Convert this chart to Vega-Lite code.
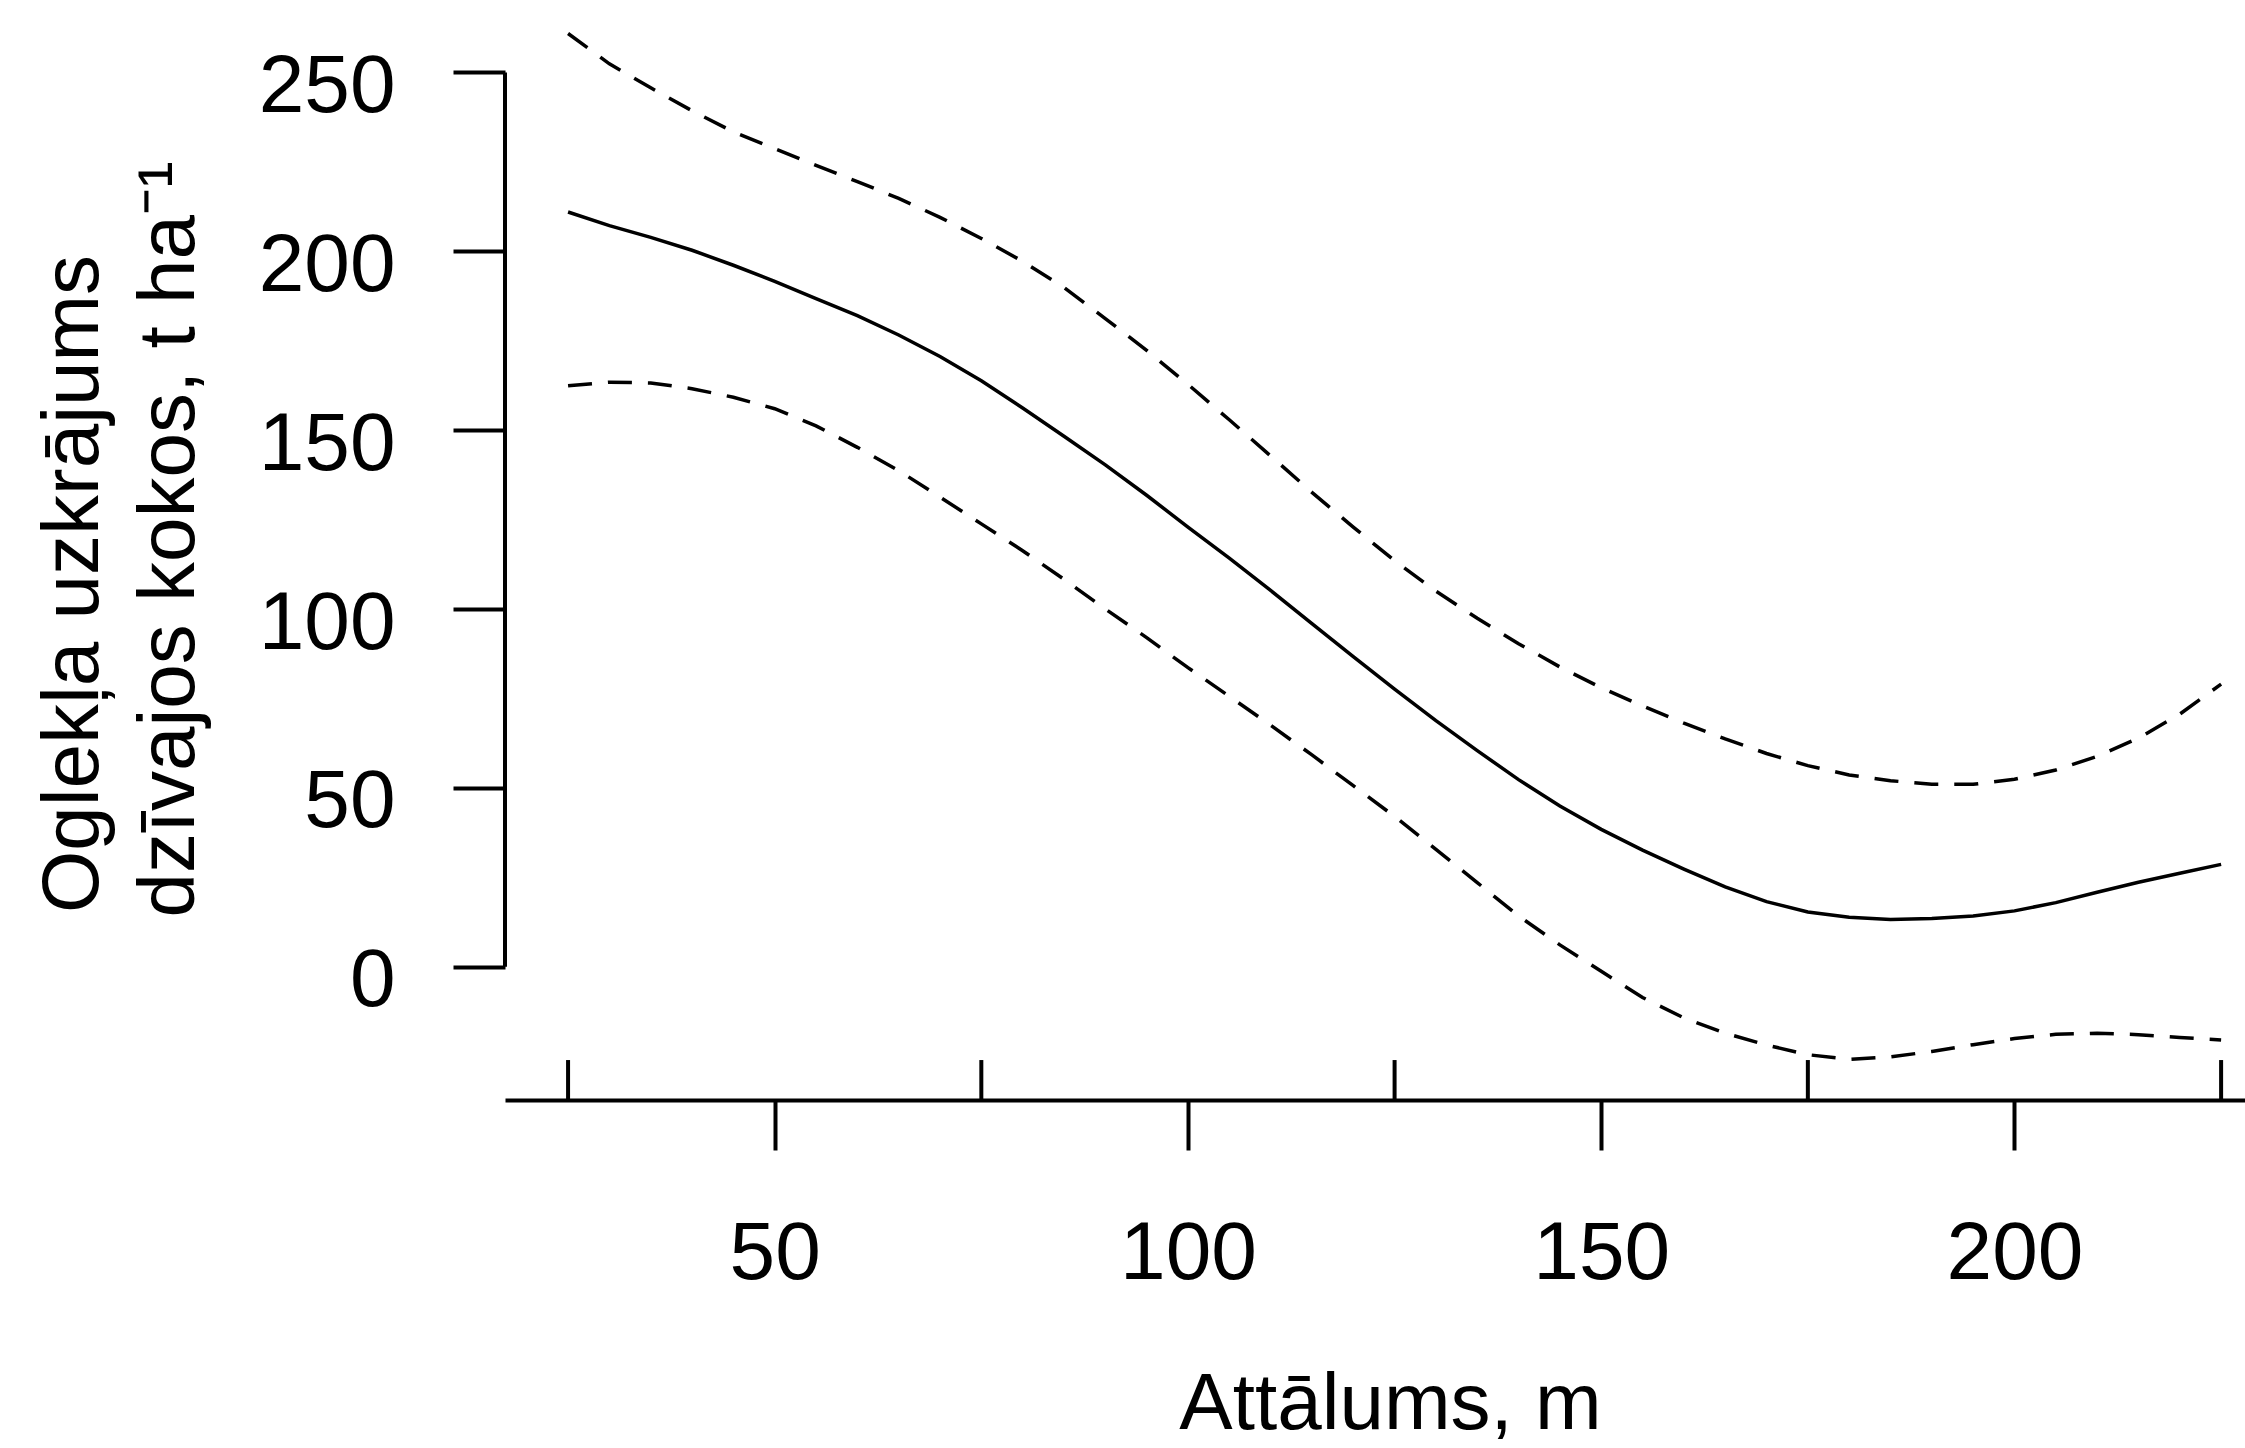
{
  "$schema": "https://vega.github.io/schema/vega-lite/v6.json",
  "width": 1740,
  "height": 1100,
  "autosize": {"type": "none"},
  "padding": {"left": 505, "top": 0, "right": 0, "bottom": 348},
  "background": "white",
  "config": {
    "view": {"stroke": null},
    "font": "Liberation Sans"
  },
  "datasets": {
    "fit": [
      {"x": 25, "y": 211.0}, {"x": 30, "y": 207.2}, {"x": 35, "y": 203.9}, {"x": 40, "y": 200.3},
      {"x": 45, "y": 196.1}, {"x": 50, "y": 191.6}, {"x": 55, "y": 186.8}, {"x": 60, "y": 182.0},
      {"x": 65, "y": 176.6}, {"x": 70, "y": 170.6}, {"x": 75, "y": 163.8}, {"x": 80, "y": 156.2},
      {"x": 85, "y": 148.3}, {"x": 90, "y": 140.3}, {"x": 95, "y": 131.8}, {"x": 100, "y": 122.9},
      {"x": 105, "y": 114.2}, {"x": 110, "y": 105.2}, {"x": 115, "y": 95.9}, {"x": 120, "y": 86.7},
      {"x": 125, "y": 77.6}, {"x": 130, "y": 68.8}, {"x": 135, "y": 60.4}, {"x": 140, "y": 52.3},
      {"x": 145, "y": 44.9}, {"x": 150, "y": 38.4}, {"x": 155, "y": 32.6}, {"x": 160, "y": 27.3},
      {"x": 165, "y": 22.3}, {"x": 170, "y": 18.2}, {"x": 175, "y": 15.3}, {"x": 180, "y": 13.8},
      {"x": 185, "y": 13.2}, {"x": 190, "y": 13.5}, {"x": 195, "y": 14.2}, {"x": 200, "y": 15.6},
      {"x": 205, "y": 17.9}, {"x": 210, "y": 20.8}, {"x": 215, "y": 23.6}, {"x": 220, "y": 26.1},
      {"x": 225, "y": 28.6}
    ],
    "upper": [
      {"x": 25, "y": 260.9}, {"x": 30, "y": 252.4}, {"x": 35, "y": 245.7}, {"x": 40, "y": 239.3},
      {"x": 45, "y": 233.4}, {"x": 50, "y": 228.7}, {"x": 55, "y": 224.0}, {"x": 60, "y": 219.5},
      {"x": 65, "y": 214.8}, {"x": 70, "y": 209.5}, {"x": 75, "y": 203.6}, {"x": 80, "y": 197.2},
      {"x": 85, "y": 189.9}, {"x": 90, "y": 181.2}, {"x": 95, "y": 172.3}, {"x": 100, "y": 162.8},
      {"x": 105, "y": 152.9}, {"x": 110, "y": 142.8}, {"x": 115, "y": 132.6}, {"x": 120, "y": 122.9},
      {"x": 125, "y": 113.5}, {"x": 130, "y": 105.0}, {"x": 135, "y": 97.4}, {"x": 140, "y": 90.3},
      {"x": 145, "y": 83.8}, {"x": 150, "y": 78.0}, {"x": 155, "y": 72.9}, {"x": 160, "y": 68.1},
      {"x": 165, "y": 63.7}, {"x": 170, "y": 59.6}, {"x": 175, "y": 56.2}, {"x": 180, "y": 53.6},
      {"x": 185, "y": 52.0}, {"x": 190, "y": 51.0}, {"x": 195, "y": 51.0}, {"x": 200, "y": 52.4},
      {"x": 205, "y": 55.0}, {"x": 210, "y": 58.8}, {"x": 215, "y": 63.9}, {"x": 220, "y": 70.6},
      {"x": 225, "y": 79.0}
    ],
    "lower": [
      {"x": 25, "y": 162.4}, {"x": 30, "y": 163.4}, {"x": 35, "y": 163.2}, {"x": 40, "y": 161.6},
      {"x": 45, "y": 159.2}, {"x": 50, "y": 156.0}, {"x": 55, "y": 151.2}, {"x": 60, "y": 145.2},
      {"x": 65, "y": 138.7}, {"x": 70, "y": 131.3}, {"x": 75, "y": 123.8}, {"x": 80, "y": 116.3},
      {"x": 85, "y": 108.3}, {"x": 90, "y": 100.0}, {"x": 95, "y": 92.0}, {"x": 100, "y": 83.6},
      {"x": 105, "y": 75.6}, {"x": 110, "y": 67.5}, {"x": 115, "y": 59.2}, {"x": 120, "y": 50.6},
      {"x": 125, "y": 42.0}, {"x": 130, "y": 32.8}, {"x": 135, "y": 23.5}, {"x": 140, "y": 14.2},
      {"x": 145, "y": 6.1}, {"x": 150, "y": -1.3}, {"x": 155, "y": -8.6}, {"x": 160, "y": -14.3},
      {"x": 165, "y": -18.6}, {"x": 170, "y": -21.9}, {"x": 175, "y": -24.6}, {"x": 180, "y": -25.9},
      {"x": 185, "y": -25.2}, {"x": 190, "y": -23.7}, {"x": 195, "y": -21.8}, {"x": 200, "y": -20.1},
      {"x": 205, "y": -18.9}, {"x": 210, "y": -18.6}, {"x": 215, "y": -19.0}, {"x": 220, "y": -19.8},
      {"x": 225, "y": -20.5}
    ],
    "rug": [
      {"x": 25}, {"x": 75}, {"x": 125}, {"x": 175}, {"x": 225}
    ]
  },
  "layer": [
    {
      "data": {"name": "fit"},
      "mark": {"type": "line", "color": "black", "strokeWidth": 3.5},
      "encoding": {
        "x": {
          "field": "x", "type": "quantitative",
          "scale": {"domain": [17.37, 227.89], "nice": false, "zero": false},
          "axis": {
            "title": "Attālums, m",
            "values": [50, 100, 150, 200],
            "grid": false,
            "domain": true, "domainColor": "black", "domainWidth": 4,
            "ticks": true, "tickColor": "black", "tickWidth": 4, "tickSize": 50,
            "labelFont": "Liberation Sans", "labelFontSize": 82, "labelColor": "black",
            "labelBaseline": "alphabetic", "labelPadding": 128,
            "labelFlush": false, "labelOverlap": false,
            "titleFont": "Liberation Sans", "titleFontSize": 80, "titleFontWeight": "normal", "titleColor": "black",
            "titleX": 885, "titleY": 328, "titleBaseline": "alphabetic", "titleAlign": "center"
          }
        },
        "y": {
          "field": "y", "type": "quantitative",
          "scale": {"domain": [-37.27, 270.26], "nice": false, "zero": false},
          "axis": {
            "title": ["Oglekļa uzkrājums\u00a0\u00a0\u00a0\u00a0\u200b", "dzīvajos kokos, t ha⁻¹"],
            "values": [0, 50, 100, 150, 200, 250],
            "grid": false,
            "domain": false,
            "ticks": true, "tickColor": "black", "tickWidth": 4, "tickSize": 52,
            "labelFont": "Liberation Sans", "labelFontSize": 82, "labelColor": "black",
            "labelBaseline": "alphabetic", "labelOffset": 39, "labelPadding": 58, "labelAlign": "right",
            "labelFlush": false, "labelOverlap": false,
            "titleFont": "Liberation Sans", "titleFontSize": 80, "titleFontWeight": "normal", "titleColor": "black",
            "titleAngle": -90, "titleX": -408, "titleY": 539, "titleBaseline": "alphabetic",
            "titleAlign": "center", "titleLineHeight": 96
          }
        }
      }
    },
    {
      "data": {"name": "upper"},
      "mark": {"type": "line", "color": "black", "strokeWidth": 3.5, "strokeDash": [24, 16]},
      "encoding": {
        "x": {"field": "x", "type": "quantitative", "scale": {"domain": [17.37, 227.89], "nice": false, "zero": false}},
        "y": {"field": "y", "type": "quantitative", "scale": {"domain": [-37.27, 270.26], "nice": false, "zero": false}}
      }
    },
    {
      "data": {"name": "lower"},
      "mark": {"type": "line", "color": "black", "strokeWidth": 3.5, "strokeDash": [24, 16]},
      "encoding": {
        "x": {"field": "x", "type": "quantitative", "scale": {"domain": [17.37, 227.89], "nice": false, "zero": false}},
        "y": {"field": "y", "type": "quantitative", "scale": {"domain": [-37.27, 270.26], "nice": false, "zero": false}}
      }
    },
    {
      "data": {"name": "rug"},
      "mark": {"type": "rule", "color": "black", "strokeWidth": 4},
      "encoding": {
        "x": {"field": "x", "type": "quantitative", "scale": {"domain": [17.37, 227.89], "nice": false, "zero": false}},
        "y": {"datum": -37.27, "type": "quantitative", "scale": {"domain": [-37.27, 270.26], "nice": false, "zero": false}},
        "y2": {"datum": -26.1}
      }
    },
    {
      "data": {"values": [{"yaxis": "line"}]},
      "mark": {"type": "rule", "color": "black", "strokeWidth": 4},
      "encoding": {
        "x": {"datum": 17.37, "type": "quantitative", "scale": {"domain": [17.37, 227.89], "nice": false, "zero": false}},
        "y": {"datum": 0, "type": "quantitative", "scale": {"domain": [-37.27, 270.26], "nice": false, "zero": false}},
        "y2": {"datum": 250}
      }
    }
  ]
}
